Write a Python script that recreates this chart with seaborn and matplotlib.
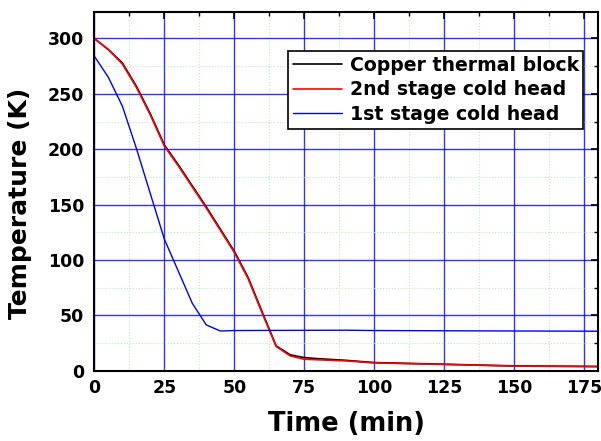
import pandas as pd
import matplotlib
matplotlib.use('Agg')
import matplotlib.pyplot as plt
import seaborn as sns
from matplotlib.ticker import MultipleLocator

# time (min)
time_cu = [0, 5, 10, 15, 20, 25, 30, 35, 40, 45, 50, 55, 60, 65, 70, 75, 80, 90, 100, 125, 150, 180]
copper = [300, 290, 278, 257, 232, 204, 186, 167, 148, 128, 108, 84, 53, 22.5, 14.5, 12, 11, 9.5, 7.5, 6, 4.5, 4]
second = [300, 290, 277, 256, 231, 203, 185, 166, 147, 127, 107, 83, 52, 22, 13.5, 10.5, 10, 9, 7.2, 5.8, 4.3, 3.8]
time_1st = [0, 5, 10, 15, 20, 25, 30, 35, 40, 45, 50, 60, 75, 90, 100, 125, 150, 180]
first = [284, 265, 239, 201, 160, 119, 90, 61, 41.5, 36, 36.4, 36.5, 36.6, 36.7, 36.4, 36.2, 36, 35.8]

df_cu = pd.DataFrame({'t': time_cu, 'T': copper})
df_2 = pd.DataFrame({'t': time_cu, 'T': second})
df_1 = pd.DataFrame({'t': time_1st, 'T': first})

sns.set_style('white')
plt.rcParams['font.family'] = ['DejaVu Sans']
plt.rcParams['font.weight'] = 'bold'
plt.rcParams['text.color'] = 'black'
plt.rcParams['axes.labelcolor'] = 'black'
plt.rcParams['xtick.color'] = 'black'
plt.rcParams['ytick.color'] = 'black'

fig, ax = plt.subplots(figsize=(6.01, 4.41), dpi=100)
sns.lineplot(data=df_cu, x='t', y='T', color='black', lw=1.2, label='Copper thermal block', ax=ax)
sns.lineplot(data=df_2, x='t', y='T', color='red', lw=1.2, label='2nd stage cold head', ax=ax)
sns.lineplot(data=df_1, x='t', y='T', color='blue', lw=1.0, label='1st stage cold head', ax=ax)

ax.set_xlim(0, 180)
ax.set_ylim(0, 324)
ax.xaxis.set_major_locator(MultipleLocator(25))
ax.xaxis.set_minor_locator(MultipleLocator(12.5))
ax.yaxis.set_major_locator(MultipleLocator(50))
ax.yaxis.set_minor_locator(MultipleLocator(25))
ax.grid(which='major', color='blue', lw=1.0, alpha=0.8)
ax.grid(which='minor', color='#b8f0b8', lw=0.8, ls=':')
ax.set_axisbelow(True)
ax.tick_params(which='both', direction='in', top=True, right=True, color='black')
ax.tick_params(which='major', length=5, width=1.2, labelsize=12.5)
ax.tick_params(axis='y', which='major', pad=7.5)
ax.tick_params(axis='x', which='major', pad=6)
ax.tick_params(which='minor', length=3, width=1.0)
for lab in ax.get_xticklabels() + ax.get_yticklabels():
    lab.set_fontweight('bold')
for sp in ax.spines.values():
    sp.set_color('black')
    sp.set_linewidth(1.5)

ax.set_xlabel('Time (min)', fontsize=18.5, fontweight='bold')
ax.set_ylabel('Temperature (K)', fontsize=18, fontweight='bold')
ax.xaxis.set_label_coords(0.5, -0.112)
ax.yaxis.set_label_coords(-0.123, 0.468)

leg = ax.legend(loc='upper right', bbox_to_anchor=(0.971, 0.891), borderaxespad=0,
                fontsize=13.6, frameon=True, fancybox=False, handlelength=2.6,
                handletextpad=0.4, borderpad=0.25, labelspacing=0.3)
leg.get_frame().set_edgecolor('black')
leg.get_frame().set_linewidth(1.2)
leg.get_frame().set_alpha(1)
for t in leg.get_texts():
    t.set_fontweight('bold')

plt.subplots_adjust(left=0.157, right=0.995, top=0.973, bottom=0.159)
plt.savefig('out.png', dpi=100)
plt.close('all')
